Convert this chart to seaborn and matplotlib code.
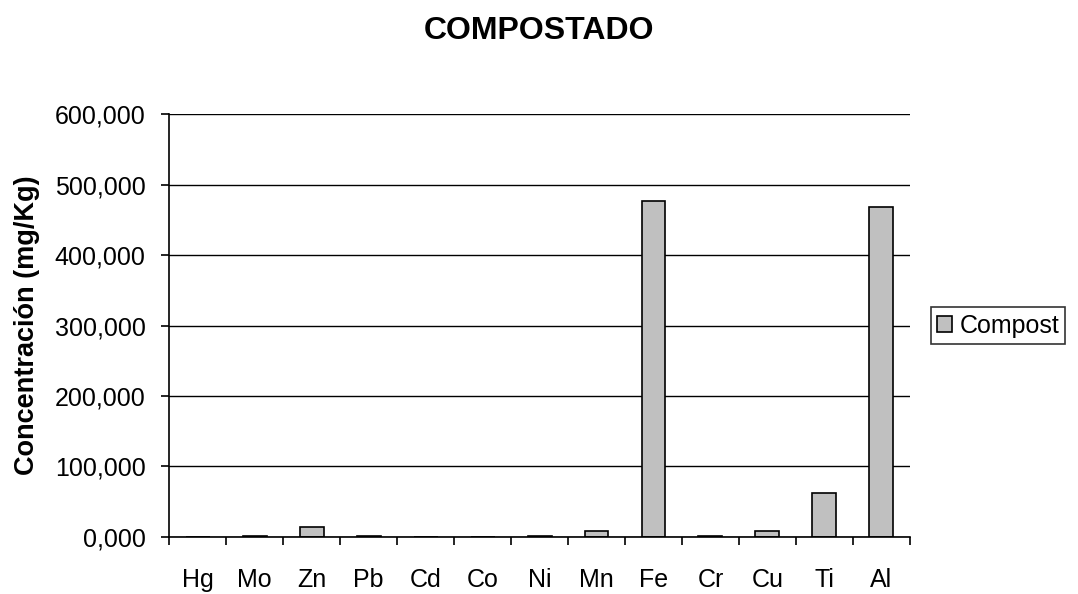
import matplotlib
matplotlib.use("Agg")
import matplotlib.pyplot as plt
from matplotlib.ticker import FixedLocator, FuncFormatter
import seaborn as sns
import pandas as pd
import numpy as np

# Metal concentrations in compost (mg/Kg)
elements = ["Hg", "Mo", "Zn", "Pb", "Cd", "Co", "Ni", "Mn", "Fe", "Cr", "Cu", "Ti", "Al"]
compost = [0.2, 1.8, 14.0, 1.6, 0.1, 0.1, 1.6, 8.0, 477.0, 1.6, 8.0, 62.0, 468.0]
y_ticks = [0, 100, 200, 300, 400, 500, 600]

df = pd.DataFrame({"Elemento": elements, "Compost": compost})

sns.set_theme(style="white")
plt.rcParams["font.family"] = ["Liberation Sans", "DejaVu Sans"]
plt.rcParams.update({"text.color": "black", "axes.labelcolor": "black",
                     "xtick.color": "black", "ytick.color": "black"})

fig = plt.figure(figsize=(10.78, 5.94), dpi=100)
ax = fig.add_axes([0.157, 0.096, 0.687, 0.712])

sns.barplot(data=df, x="Elemento", y="Compost", color="#C0C0C0",
            edgecolor="black", linewidth=1.2, width=0.42, saturation=1,
            label="Compost", ax=ax)

ax.set_ylim(0, 600)
ax.set_xlim(-0.5, len(elements) - 0.5)
ax.yaxis.set_major_locator(FixedLocator(y_ticks))
ax.yaxis.set_major_formatter(FuncFormatter(lambda v, p: f"{v:.3f}".replace(".", ",")))
ax.grid(axis="y", color="black", linewidth=1)
ax.set_axisbelow(True)

# category separators as tick marks below the axis
ax.xaxis.set_minor_locator(FixedLocator(np.arange(-0.5, len(elements), 1.0)))
ax.tick_params(axis="x", which="major", length=0, labelsize=18, pad=22)
ax.tick_params(axis="x", which="minor", bottom=True, length=6, width=1.2, color="black")
ax.tick_params(axis="y", left=True, length=6, width=1.2, labelsize=18, pad=11)

for s in ["top", "right"]:
    ax.spines[s].set_visible(False)
for s in ["left", "bottom"]:
    ax.spines[s].set_color("black")
    ax.spines[s].set_linewidth(1.2)

ax.set_xlabel("")
ax.set_ylabel("Concentración (mg/Kg)", fontsize=19.5, fontweight="bold")
ax.yaxis.set_label_coords(-0.175, 0.5)
fig.text(0.5, 0.948, "COMPOSTADO", fontsize=23, fontweight="bold",
         ha="center", va="center")

leg = ax.legend(loc="center left", bbox_to_anchor=(1.028, 0.5), frameon=True,
                fancybox=False, edgecolor="black", fontsize=18,
                handlelength=0.6, handleheight=0.6, handletextpad=0.3,
                borderpad=0.25, borderaxespad=0)
leg.get_frame().set_linewidth(1.2)

fig.savefig("out.png", dpi=100, facecolor="white")
